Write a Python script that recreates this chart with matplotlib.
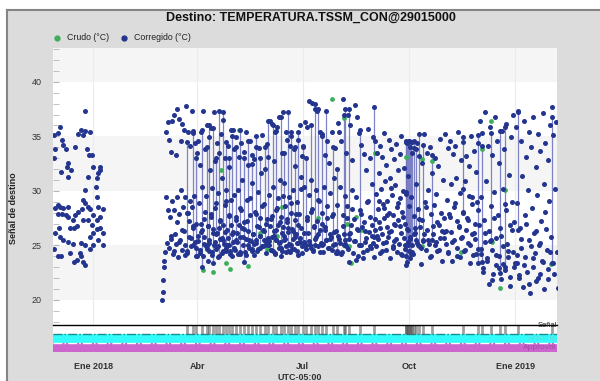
import numpy as np
import matplotlib
matplotlib.use('Agg')
import matplotlib.pyplot as plt
import matplotlib.dates as mdates
from matplotlib.patches import Rectangle
from matplotlib.lines import Line2D
from datetime import datetime

plt.rcParams['font.family'] = ['Liberation Sans', 'DejaVu Sans']

BASE = datetime(2018, 1, 1)

# Nov/Dic 2017 - inicio de Ene 2018 (dias desde 2018-01-01)
dic2017_dias = [-34, -31, -29, -33, -27, -26, -24, -34, -22, -23, -19, -28, -22, -16, -13, -11,
                -7, -3, -9, -7, -6, -4, -1, -5, 0, 6, 4, 6, 3, 2, -7, 3,
                -31, -33, -29, -26, -22, -31, -27, -24, -22, -18, -16, -13, -10, -7, -9, -5,
                -3, 0, 4, 8, 6, 3, -1, -5, -9, -14, -17, -20, -30, -33, -29, -26,
                -22, -18, -11, -7, -3, 0, 3, 6, 8, 4, 8, 0, -3, -34, -31, -28,
                -20, -17, -14, -11, -9, -7, -12]
dic2017_vals = [35.1, 35.3, 35.9, 33.8, 34.7, 34.2, 33.8, 33.0, 32.6, 32.2, 31.9, 31.7, 31.3, 34.0, 35.2, 35.6,
                35.5, 35.4, 35.1, 37.3, 33.8, 33.3, 33.3, 31.3, 32.2, 32.2, 31.6, 31.9, 31.2, 30.4, 30.1, 29.4,
                28.7, 28.4, 28.5, 28.4, 28.5, 27.9, 27.9, 27.8, 27.6, 27.3, 27.8, 28.1, 28.3, 28.9, 29.2, 28.5,
                28.3, 27.8, 28.5, 28.3, 27.6, 27.3, 26.9, 27.3, 27.3, 26.8, 26.6, 26.6, 26.6, 26.1, 25.8, 25.5,
                25.3, 25.1, 25.2, 25.0, 25.8, 26.1, 26.5, 26.6, 26.1, 25.5, 25.0, 25.0, 24.7, 24.7, 24.0, 24.0,
                24.3, 23.5, 23.7, 24.0, 23.5, 23.2, 24.3]

# valores corregidos por mes (°C)
mar_2018 = [20.0, 20.7, 21.8, 23.0, 23.6, 24.4, 35.4, 29.4, 25.2, 36.3, 28.2, 24.8, 34.7, 27.6, 33.6, 25.6,
            36.4, 29.1, 24.2, 37.0, 28.2, 26.0, 33.3, 25.1, 37.5, 29.4, 23.9, 36.6, 27.9, 25.5, 34.6, 30.1,
            24.6, 36.1, 28.5, 26.3, 35.6, 29.4, 25.0, 37.8, 28.0, 24.3, 35.4, 27.2, 25.8, 34.1, 29.1, 24.9,
            37.3, 28.5, 26.6, 35.3, 29.5, 25.3, 34.4, 27.0, 24.0, 33.5]
abr_2018 = [34.6, 25.4, 28.9, 32.4, 24.6, 35.4, 26.2, 30.4, 24.0, 37.3, 25.8, 27.4, 33.8, 24.9, 29.5, 36.0,
            26.8, 23.6, 34.9, 25.2, 31.9, 27.9, 35.8, 24.4, 30.3, 26.5, 37.2, 25.0, 32.7, 28.4, 24.7, 34.4,
            26.1, 29.8, 23.9, 33.5, 25.6, 27.2, 35.2, 24.3, 31.2, 26.9, 36.5, 25.1, 28.7, 33.0, 24.8, 30.1,
            26.4, 34.1, 25.7, 27.7, 32.2, 24.5, 29.2, 35.6, 26.0]
may_2018 = [35.6, 25.3, 29.6, 33.8, 24.6, 27.3, 34.9, 26.1, 30.1, 24.2, 33.1, 25.8, 28.4, 34.4, 26.6, 31.0,
            25.0, 33.6, 27.1, 24.4, 35.4, 25.6, 29.2, 32.4, 26.3, 24.8, 34.6, 27.8, 25.4, 30.7, 33.3, 26.0,
            24.1, 32.9, 28.1, 25.2, 34.0, 26.8, 29.9, 24.7, 33.9, 25.9, 27.5, 31.6, 24.9, 35.1, 26.4, 28.8,
            25.5, 32.0, 24.3, 27.0, 34.3, 25.7]
jun_2018 = [33.1, 25.0, 29.6, 36.4, 24.6, 27.4, 36.1, 25.8, 30.4, 32.7, 26.3, 24.2, 35.4, 28.2, 25.5, 35.9,
            26.9, 29.3, 24.8, 36.8, 25.3, 31.0, 27.6, 33.5, 24.5, 26.7, 37.2, 25.9, 30.7, 28.6, 35.4, 24.9,
            27.1, 34.7, 26.2, 29.4, 25.1, 34.1, 24.4, 28.0, 35.4, 26.5, 30.1, 25.6, 33.8, 24.7, 27.3, 32.3,
            26.0, 29.0, 25.2, 34.7, 24.1, 27.9, 36.0, 25.7, 31.3, 26.6, 24.3, 33.2]
jul_2018 = [34.1, 25.3, 30.4, 36.3, 24.7, 27.6, 35.9, 26.1, 29.6, 38.2, 25.0, 31.0, 28.3, 38.1, 24.5, 26.8,
            37.5, 25.6, 30.1, 27.2, 37.3, 24.9, 29.1, 35.4, 26.4, 25.2, 35.2, 28.0, 24.4, 30.4, 33.3, 26.7,
            25.5, 34.6, 27.5, 24.8, 32.6, 26.0, 29.8, 25.8, 35.4, 24.6, 27.9, 31.2, 25.1, 33.9, 26.3, 28.7,
            24.3, 36.2]
ago_2018 = [35.4, 25.2, 30.4, 34.6, 24.4, 27.8, 38.4, 26.0, 29.5, 33.5, 24.9, 28.6, 37.0, 25.6, 23.5, 36.0,
            26.9, 30.1, 32.8, 24.3, 27.4, 37.9, 25.4, 29.4, 36.8, 24.0, 26.4, 35.3, 28.2, 25.0, 34.2, 26.7,
            23.8, 33.4, 27.1, 25.3, 31.9, 24.6, 29.0, 35.7, 26.2, 27.6, 33.0, 24.8, 30.6, 25.9, 34.9, 23.9]
sep_2018 = [34.6, 26.4, 29.7, 24.9, 33.5, 28.3, 25.6, 31.6, 27.1, 34.1, 24.3, 30.2, 26.0, 33.1, 28.8, 25.2,
            35.3, 27.5, 30.9, 24.6, 32.4, 26.7, 29.1, 25.8, 34.7, 28.0, 23.8, 31.2, 26.3, 33.8, 29.6, 24.8,
            27.8, 32.9, 25.4, 30.5, 26.9, 34.3, 28.5, 24.4, 31.9, 27.3, 25.1, 33.4, 29.3, 26.1, 35.0, 24.1,
            28.1, 30.0, 25.7, 32.1, 27.0, 24.7, 34.5, 29.9, 26.5, 31.4, 25.3, 28.6]
oct_2018 = [34.6, 25.6, 29.4, 34.5, 24.2, 27.7, 33.9, 26.1, 30.6, 34.4, 25.0, 28.3, 33.2, 26.7, 23.3, 32.6,
            27.3, 25.4, 35.2, 29.0, 24.6, 33.5, 26.4, 30.1, 25.1, 34.0, 27.9, 24.0, 31.6, 26.0, 28.7, 33.0,
            25.3, 29.7, 24.5, 32.3, 26.9, 25.7, 34.8, 28.0, 23.6, 31.0, 26.2, 27.5]
nov_2018 = [35.2, 25.1, 29.2, 33.9, 24.3, 27.9, 34.6, 26.2, 30.6, 23.6, 33.4, 28.5, 25.5, 34.1, 31.2, 24.8,
            27.2, 35.4, 26.7, 29.8, 23.9, 32.8, 25.8, 28.1, 34.9, 24.5, 30.9, 26.4, 33.2, 27.5, 25.2, 32.3,
            29.5, 23.4, 35.0, 26.0, 28.8, 24.1, 33.7, 27.0, 25.6, 31.7, 29.0, 24.7, 34.4, 26.9]
dic_2018 = [36.4, 24.2, 29.4, 35.3, 22.9, 27.3, 37.2, 25.3, 30.9, 23.6, 34.1, 26.3, 21.5, 35.9, 28.6, 24.6,
            33.3, 22.4, 29.9, 36.8, 25.7, 23.2, 34.6, 27.8, 24.0, 32.6, 26.6, 21.9, 35.5, 30.2, 24.9, 33.8,
            22.7, 28.2, 36.1, 25.1, 23.9, 31.5, 26.9, 22.1, 34.9, 29.0, 24.4, 37.0, 27.1, 23.4]
ene_2019 = [35.9, 23.4, 28.9, 37.3, 22.0, 26.6, 34.6, 24.8, 31.4, 21.2, 36.4, 27.8, 23.9, 33.1, 22.6, 30.1,
            35.4, 25.5, 20.6, 34.0, 28.4, 23.0, 36.8, 26.1, 24.3, 32.2, 21.7, 29.6, 35.2, 25.0, 22.4, 33.7,
            27.2, 23.6, 37.1, 30.6, 21.0, 34.4, 26.5, 24.6, 32.8, 22.8, 29.1, 36.0, 25.8]
feb_2019 = [37.7, 23.4, 35.1, 22.4, 30.2, 36.3, 24.4, 21.1]

# lecturas nocturnas (banda baja) por mes
mar_2018_b = [25.9, 24.5, 27.1, 25.3, 26.4, 24.1, 28.0, 25.7, 26.8, 24.8]
abr_2018_b = [25.9, 24.3, 27.0, 26.4, 25.1, 28.1, 24.7, 26.8, 25.5, 27.6, 24.1, 26.1, 25.3, 28.9, 24.9, 26.6,
              27.3, 25.7, 24.5, 26.2, 29.1, 25.0, 27.8, 24.2, 26.9]
may_2018_b = [26.2, 24.8, 27.6, 25.3, 26.9, 24.4, 28.2, 25.8, 26.5, 24.1, 27.2, 25.5, 29.3, 24.7, 26.0, 25.1,
              27.9, 24.5, 26.7, 25.9, 28.6, 24.9, 26.3, 25.4, 27.4]
jun_2018_b = [25.4, 26.8, 24.6, 27.7, 25.9, 24.3, 26.4, 28.4, 25.2, 27.1, 24.8, 26.1, 29.5, 25.6, 24.4, 27.4,
              26.6, 25.0, 28.9, 24.7, 26.3, 25.8, 27.9, 24.5, 26.9, 25.3, 30.2, 24.9]
jul_2018_b = [26.1, 24.9, 27.3, 25.4, 28.1, 24.6, 26.7, 25.8, 29.2, 24.4, 27.0, 25.1, 26.4, 28.6, 24.8, 25.6,
              27.7, 26.2, 24.3, 25.9]
ago_2018_b = [25.6, 24.2, 26.8, 25.1, 27.5, 24.7, 26.1, 28.3, 25.4, 23.7, 26.5, 25.0, 27.9, 24.4, 26.3, 25.7,
              29.1, 24.9, 26.9, 25.2]
sep_2018_b = [27.4, 25.9, 29.1, 26.6, 24.5, 28.4, 25.3, 27.8, 26.2, 30.3, 24.9, 27.0, 25.6, 28.9, 26.8, 24.2,
              27.6, 25.0, 29.7, 26.4]
oct_2018_b = [25.8, 24.4, 26.6, 25.2, 27.4, 24.8, 26.0, 28.5, 25.5, 23.9, 26.8, 25.0, 27.1, 24.6, 26.3, 25.7]
nov_2018_b = [26.3, 24.4, 27.6, 25.3, 28.9, 24.0, 26.8, 25.7, 30.2, 24.6, 27.3, 25.0, 29.4, 26.1, 24.2, 28.2]
dic_2018_b = [24.7, 22.6, 26.1, 23.8, 25.4, 21.8, 27.5, 24.1, 22.9, 25.9, 23.3, 28.8, 24.5, 21.3, 26.4, 23.0]
ene_2019_b = [24.1, 22.3, 25.6, 23.2, 27.0, 21.5, 24.9, 23.8, 26.3, 22.0, 25.2, 23.5, 28.1, 21.9, 24.4]

meses = [
    ('2018-03-01', '2018-04-01', mar_2018),
    ('2018-04-01', '2018-05-01', abr_2018),
    ('2018-05-01', '2018-06-01', may_2018),
    ('2018-06-01', '2018-07-01', jun_2018),
    ('2018-07-01', '2018-08-01', jul_2018),
    ('2018-08-01', '2018-09-01', ago_2018),
    ('2018-09-01', '2018-10-01', sep_2018),
    ('2018-10-01', '2018-11-01', oct_2018),
    ('2018-11-01', '2018-12-01', nov_2018),
    ('2018-12-01', '2019-01-01', dic_2018),
    ('2019-01-01', '2019-02-01', ene_2019),
    ('2019-02-01', '2019-02-07', feb_2019),
    ('2018-03-08', '2018-04-01', mar_2018_b),
    ('2018-04-01', '2018-05-01', abr_2018_b),
    ('2018-05-01', '2018-06-01', may_2018_b),
    ('2018-06-01', '2018-07-01', jun_2018_b),
    ('2018-07-01', '2018-08-01', jul_2018_b),
    ('2018-08-01', '2018-09-01', ago_2018_b),
    ('2018-09-01', '2018-10-01', sep_2018_b),
    ('2018-10-01', '2018-11-01', oct_2018_b),
    ('2018-11-01', '2018-12-01', nov_2018_b),
    ('2018-12-01', '2019-01-01', dic_2018_b),
    ('2019-01-01', '2019-02-01', ene_2019_b),
]

# tramos con lecturas seguidas (dia, minimo, maximo)
salto_dia = [81, 86, 89, 94, 98, 100, 103, 106, 109, 112, 115, 117, 120, 123, 127, 130,
             134, 137, 141, 144, 148, 151, 155, 158, 162, 165, 168, 171, 174, 177, 181, 184,
             188, 192, 194, 198, 201, 207, 211, 217, 218, 221, 231, 243, 270, 270.5,
             271.4, 272.2, 273, 273.9, 274.8, 275.7, 277.5, 279.3, 282, 284.7, 293, 320,
             333, 336, 344, 351.5, 356, 367, 396.5]
salto_min = [24.5, 25, 24, 23.0, 25, 24.5, 23.4, 26, 24, 25.5, 24.5, 25, 24, 25.5, 24.2, 23.5,
             25, 24.5, 25.5, 24.8, 25, 25, 24.5, 25.5, 24, 25.5, 24.5, 25, 26, 25.2, 25, 25,
             24.8, 25, 26, 25, 25.5, 25, 24.5, 25, 25.5, 26, 25, 25.8, 23.2, 24,
             23.5, 25, 24.5, 23.8, 24.2, 25, 26, 25.5, 24.9, 25.5, 25.5, 28,
             23.4, 23.5, 25.5, 22.5, 23, 26.4, 23.4]
salto_max = [34.5, 35.5, 33, 35.6, 34, 36, 35.8, 33, 37.3, 37.2, 34.5, 33, 35, 34, 35.6, 33,
             34.6, 32.5, 35, 33, 34, 36.4, 36, 35.5, 36.8, 33.5, 37.2, 35, 34, 35.4, 34, 33,
             36, 38, 37.5, 35, 37.3, 34, 32, 37, 37.5, 37.5, 35.6, 37.7, 34.5, 34.6,
             34.4, 34.5, 34.6, 34.0, 34.5, 33.5, 34.6, 33.8, 35.2, 34.2, 33.3, 34.5,
             35.1, 34.1, 35.3, 35.5, 35.9, 37.2, 36.8]

# lecturas crudas visibles
crudo_dia = [94.4, 103.1, 110.2, 114.6, 118, 125.9, 133.8, 121.6, 144.3, 150.4, 159.1, 163.5,
             194.3, 206.7, 216.6, 219.1, 220.7, 223.2, 227.3, 231.5, 243.9, 270.5, 273, 274.8,
             283.8, 283.8, 292.8, 318.1, 336.2, 344.3, 345.2, 351.5, 356, 395.6]
crudo_val = [22.7, 22.6, 31.9, 23.4, 22.8, 35.6, 23.1, 24.7, 26.1, 24.7, 25.9, 28.5,
             27.5, 38.4, 36.7, 27.0, 24.9, 23.4, 27.6, 26.4, 33.5, 33.1, 25.2, 24.3,
             32.9, 24.9, 32.7, 24.4, 33.8, 36.4, 25.3, 21.1, 30.1, 23.3]

ticks_x = ['2018-01-01', '2018-04-01', '2018-07-01', '2018-10-01', '2019-01-01']
ticks_lab = ['Ene 2018', 'Abr', 'Jul', 'Oct', 'Ene 2019']

AZUL = '#23358f'
VERDE = '#3dae5a'


def dnum(s):
    return mdates.date2num(datetime.strptime(s, '%Y-%m-%d'))


def de_dias(dias):
    return mdates.date2num(BASE) + np.asarray(dias, dtype=float)


def repartir(ini, fin, vals):
    t0, t1 = dnum(ini), dnum(fin)
    paso = (t1 - t0) / len(vals)
    return t0 + paso * (np.arange(len(vals)) + 0.5), np.asarray(vals)


t_corr = [de_dias(dic2017_dias)]
v_corr = [np.asarray(dic2017_vals)]
for ini, fin, vals in meses:
    t, v = repartir(ini, fin, vals)
    t_corr.append(t)
    v_corr.append(v)
t_salto = de_dias(salto_dia)
t_corr += [t_salto, t_salto]
v_corr += [np.asarray(salto_min), np.asarray(salto_max)]
t_corr = np.concatenate(t_corr)
v_corr = np.concatenate(v_corr)

fig = plt.figure(figsize=(6, 3.81), dpi=100, facecolor='white')
fig.patches.append(Rectangle((7 / 600, 0), 1, 371 / 381, transform=fig.transFigure,
                             facecolor='#dcdcdc', edgecolor='none', zorder=-10))
fig.lines.append(Line2D([7 / 600, 1], [371 / 381, 371 / 381], transform=fig.transFigure,
                        color='#858585', lw=1.5))
fig.lines.append(Line2D([7 / 600, 7 / 600], [0, 371 / 381], transform=fig.transFigure,
                        color='#858585', lw=1.5))

ax = fig.add_axes([53 / 600, 56 / 381, 504 / 600, 277 / 381])
ax_s = fig.add_axes([53 / 600, 29 / 381, 504 / 600, 27 / 381], sharex=ax)

xmin, xmax = dnum('2017-11-27'), dnum('2019-02-06')
ax.set_xlim(xmin, xmax)
ax.set_ylim(17.7, 43.1)
ax.set_facecolor('white')
for lo in [20, 30, 40]:
    ax.axhspan(lo, lo + 5, color='#f5f5f5', zorder=0, lw=0)
for s in ticks_x:
    ax.axvline(dnum(s), color='#ebebeb', lw=0.8, zorder=0)
for sp in ax.spines.values():
    sp.set_visible(False)

ax.vlines(t_salto, salto_min, salto_max, colors='#7177c0', lw=0.9, alpha=0.9, zorder=1)
ax.scatter(de_dias(crudo_dia), crudo_val, s=12, color=VERDE, zorder=2, linewidths=0)
ax.scatter(t_corr, v_corr, s=13, color=AZUL, zorder=3, linewidths=0)

ax.set_yticks([20, 25, 30, 35, 40])
ax.set_yticks(np.arange(18, 44), minor=True)
ax.tick_params(axis='y', which='major', direction='in', length=4, color='#b5b5b5',
               labelsize=6.5, labelcolor='#333333', pad=8)
ax.tick_params(axis='y', which='minor', direction='in', length=4, color='#b5b5b5')
ax.tick_params(axis='x', length=0, labelbottom=False)
ax.set_ylabel('Señal de destino', fontsize=6.5, fontweight='bold', color='#222222')
ax.yaxis.set_label_coords(-0.07, 0.42)

# franjas inferiores
ax_s.set_ylim(0, 3)
ax_s.set_facecolor('white')
ax_s.axhspan(0, 1, color='#cc66cc', lw=0)
ax_s.axhspan(1, 2, color='#33fcfc', lw=0)
ax_s.axhline(2, color='#1c8c8c', lw=1, ls='-.')
ax_s.axhline(1, color='white', lw=1, ls='-.')
ax_s.vlines(t_salto, 2, 3, colors='#555555', lw=2, alpha=0.55)
for k, sp in ax_s.spines.items():
    sp.set_visible(k == 'top')
ax_s.spines['top'].set_color('black')
ax_s.spines['top'].set_linewidth(1)
ax_s.set_yticks([])
tr = ax_s.get_yaxis_transform()
ax_s.text(1.0, 2.95, 'Señal', transform=tr, ha='right', va='center', fontsize=5.5, color='#222222')
ax_s.text(1.0, 1.5, 'Grading', transform=tr, ha='right', va='center', fontsize=6, color='#5fdcdc')
ax_s.text(1.0, 0.5, 'Approval', transform=tr, ha='right', va='center', fontsize=6, color='#a548a5')

ax_s.set_xticks([dnum(s) for s in ticks_x])
ax_s.set_xticklabels(ticks_lab)
ax_s.tick_params(axis='x', length=0, pad=7, labelsize=6.5, labelcolor='#333333')
for lab in ax_s.get_xticklabels():
    lab.set_fontweight('bold')

fig.text(300 / 600, 1 - 378 / 381, 'UTC-05:00', ha='center', va='center', fontsize=6.5,
         fontweight='bold', color='#333333')
fig.text(311 / 600, 1 - 18 / 381, 'Destino: TEMPERATURA.TSSM_CON@29015000', ha='center',
         va='center', fontsize=9, fontweight='bold', color='#111111')

# leyenda
fig.lines.append(Line2D([57 / 600], [1 - 38 / 381], transform=fig.transFigure, marker='o',
                        ms=3.5, color=VERDE, ls='none'))
fig.text(67 / 600, 1 - 38 / 381, 'Crudo (°C)', ha='left', va='center', fontsize=6.3, color='#222222')
fig.lines.append(Line2D([124 / 600], [1 - 38 / 381], transform=fig.transFigure, marker='o',
                        ms=3.5, color=AZUL, ls='none'))
fig.text(134 / 600, 1 - 38 / 381, 'Corregido (°C)', ha='left', va='center', fontsize=6.3, color='#222222')

fig.savefig('out.png', dpi=100)
